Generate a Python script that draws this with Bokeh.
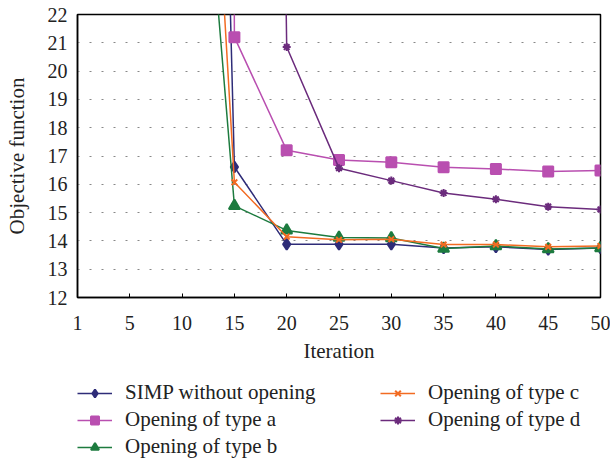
from bokeh.plotting import figure
from bokeh.models import Legend, LegendItem, FixedTicker, Range1d
from bokeh.layouts import column
from bokeh.embed import file_html
from bokeh.resources import INLINE

iterations = ["1", "5", "10", "15", "20", "25", "30", "35", "40", "45", "50"]
simp = [300, 200, 88, 16.61, 13.88, 13.88, 13.88, 13.75, 13.79, 13.70, 13.75]
type_a = [900, 700, 500, 21.2, 17.2, 16.86, 16.78, 16.60, 16.54, 16.45, 16.49]
type_b = [200, 120, 37.6, 15.24, 14.37, 14.12, 14.10, 13.73, 13.82, 13.71, 13.75]
type_c = [250, 150, 47.6, 16.07, 14.15, 14.04, 14.06, 13.87, 13.87, 13.79, 13.82]
type_d = [1000, 800, 600, 150, 20.85, 16.57, 16.13, 15.69, 15.47, 15.21, 15.11]

series_names = ["SIMP without opening", "Opening of type a", "Opening of type b",
                "Opening of type c", "Opening of type d"]
series_values = [simp, type_a, type_b, type_c, type_d]
colors = ["#2E2C78", "#B94FB0", "#1D7B3F", "#F26B22", "#6B2B7C"]
markers = ["diamond", "square", "triangle", "x", "asterisk"]
sizes = [11, 10, 11, 8, 8]

FONT = "Liberation Serif"
FS = "20px"
FS_LABEL = "21px"

x = list(range(len(iterations)))

p = figure(width=610, height=372, output_backend="svg", toolbar_location=None,
           x_range=Range1d(0, len(iterations) - 1), y_range=Range1d(12, 22),
           min_border_left=77, min_border_right=10, min_border_top=14,
           min_border_bottom=75)

p.outline_line_color = "black"
p.outline_line_width = 1.5
p.background_fill_color = "white"
p.border_fill_color = "white"

# legend-only figure below the chart; its ranges keep the series out of view,
# so only the legend glyphs show
lg = figure(width=610, height=87, output_backend="svg", toolbar_location=None,
            x_axis_location=None, y_axis_location=None,
            x_range=Range1d(0, 1), y_range=Range1d(-2, -1),
            min_border=0, min_border_left=0, min_border_right=0,
            min_border_top=0, min_border_bottom=0)
lg.outline_line_color = None
lg.grid.grid_line_color = None
lg.background_fill_color = "white"
lg.border_fill_color = "white"

items = []
for name, vals, c, m, s in zip(series_names, series_values, colors, markers, sizes):
    p.line(x, vals, line_color=c, line_width=1.5)
    p.scatter(x, vals, marker=m, size=s, fill_color=c, line_color=c, line_width=2)
    l1 = lg.line(x, vals, line_color=c, line_width=1.5)
    l2 = lg.scatter(x, vals, marker=m, size=s - 3, fill_color=c, line_color=c, line_width=2)
    items.append(LegendItem(label=name, renderers=[l1, l2]))

p.xaxis.ticker = FixedTicker(ticks=x)
p.xaxis.major_label_overrides = {i: lab for i, lab in zip(x, iterations)}
p.yaxis.ticker = FixedTicker(ticks=list(range(12, 23)))

for ax in (p.xaxis, p.yaxis):
    ax.axis_line_color = "black"
    ax.axis_line_width = 1.5
    ax.major_label_text_font = FONT
    ax.major_label_text_font_size = FS
    ax.major_label_text_color = "#222222"
    ax.axis_label_text_font = FONT
    ax.axis_label_text_font_size = FS_LABEL
    ax.axis_label_text_font_style = "normal"
    ax.axis_label_text_color = "#222222"
    ax.minor_tick_line_color = None

p.xaxis.major_tick_in = 4
p.xaxis.major_tick_out = 0
p.xaxis.major_tick_line_color = "black"
p.xaxis.major_label_standoff = 18
p.xaxis.axis_label = "Iteration"
p.xaxis.axis_label_standoff = 6

p.yaxis.major_tick_in = 0
p.yaxis.major_tick_out = 0
p.yaxis.major_label_standoff = 10
p.yaxis.axis_label = "Objective function"
p.yaxis.axis_label_standoff = 16

p.xgrid.grid_line_color = None
p.ygrid.ticker = FixedTicker(ticks=list(range(13, 22)))
p.ygrid.grid_line_color = "#888888"
p.ygrid.grid_line_dash = "2 10"
p.ygrid.grid_line_width = 1.2

legend = Legend(items=items, nrows=3, orientation="vertical",
                location=(0, 0), glyph_width=35, glyph_height=20,
                label_standoff=13, label_width=253, spacing=2,
                padding=0, margin=0, border_line_color=None,
                background_fill_alpha=0,
                label_text_font=FONT, label_text_font_size=FS_LABEL,
                label_text_color="#222222")
lg.add_layout(legend, "center")

layout = column(p, lg, spacing=0)
out = file_html(layout, INLINE)
open("out.html", "w").write(out)
